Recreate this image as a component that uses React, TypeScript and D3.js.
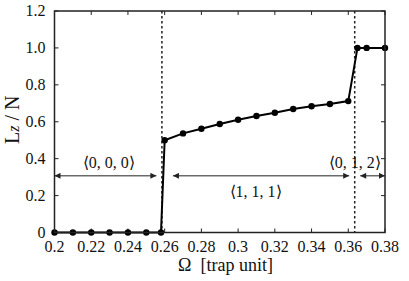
import React from "react";
import * as d3 from "d3";

const omega = [0.2, 0.21, 0.22, 0.23, 0.24, 0.25, 0.258, 0.26, 0.27, 0.28, 0.29, 0.3, 0.31, 0.32, 0.33, 0.34, 0.35, 0.36, 0.365, 0.37, 0.38];
const lzN = [0, 0, 0, 0, 0, 0, 0, 0.5, 0.537, 0.562, 0.588, 0.611, 0.631, 0.649, 0.669, 0.684, 0.696, 0.712, 1.0, 1.0, 1.0];
const xTicks = [0.2, 0.22, 0.24, 0.26, 0.28, 0.3, 0.32, 0.34, 0.36, 0.38];
const xTickLabels = ["0.2", "0.22", "0.24", "0.26", "0.28", "0.3", "0.32", "0.34", "0.36", "0.38"];
const yTicks = [0, 0.2, 0.4, 0.6, 0.8, 1.0, 1.2];
const yTickLabels = ["0", "0.2", "0.4", "0.6", "0.8", "1.0", "1.2"];
const transitions = [0.2585, 0.3635];
const regionLabels = ["⟨0, 0, 0⟩", "⟨1, 1, 1⟩", "⟨0, 1, 2⟩"];
const regionFrom = [0.2, 0.2645, 0.3665];
const regionTo = [0.2555, 0.3605, 0.38];
const regionLabelAt = [0.2295, 0.3095, 0.3635];
const regionAbove = [true, false, true];
const arrowLevel = 0.307;

const W = 409, H = 281;
const L = 54.5, R = 385, T = 11, B = 232.5;
const FONT = "Liberation Serif";

export default function App() {
  const x = d3.scaleLinear().domain([0.2, 0.38]).range([L, R]);
  const y = d3.scaleLinear().domain([0, 1.2]).range([B, T]);
  const line = d3.line<number>().x((_, i) => x(omega[i])).y((d) => y(d));
  const tl = 4;
  const ya = y(arrowLevel);
  return (
    <svg width={W} height={H} style={{ position: "absolute", left: 0, top: 0, background: "#fff" }}>
      <defs>
        <marker id="ah" viewBox="0 0 10 10" refX="10" refY="5" markerWidth="8" markerHeight="6" orient="auto-start-reverse" markerUnits="userSpaceOnUse">
          <path d="M0,0 L10,5 L0,10 z" fill="#222" />
        </marker>
      </defs>
      {transitions.map((t, i) => (
        <line key={"tr" + i} x1={x(t)} x2={x(t)} y1={T} y2={B} stroke="#222" strokeWidth={1.5} strokeDasharray="2.5,2.5" />
      ))}
      {xTicks.map((t, i) => (
        <g key={"xt" + i}>
          <line x1={x(t)} x2={x(t)} y1={B} y2={B - tl} stroke="#222" strokeWidth={1} />
          <line x1={x(t)} x2={x(t)} y1={T} y2={T + tl} stroke="#222" strokeWidth={1} />
          <text x={x(t)} y={B + 19} textAnchor="middle" fontSize={16} fill="#111" fontFamily={FONT}>{xTickLabels[i]}</text>
        </g>
      ))}
      {yTicks.map((t, i) => (
        <g key={"yt" + i}>
          <line x1={L} x2={L + tl} y1={y(t)} y2={y(t)} stroke="#222" strokeWidth={1} />
          <line x1={R} x2={R - tl} y1={y(t)} y2={y(t)} stroke="#222" strokeWidth={1} />
          <text x={L - 9} y={y(t) + 5} textAnchor="end" fontSize={16} fill="#111" fontFamily={FONT}>{yTickLabels[i]}</text>
        </g>
      ))}
      {regionLabels.map((lab, i) => (
        <g key={"rg" + i}>
          <line x1={x(regionFrom[i])} x2={x(regionTo[i])} y1={ya} y2={ya} stroke="#222" strokeWidth={1} markerStart="url(#ah)" markerEnd="url(#ah)" />
          <text x={x(regionLabelAt[i])} y={regionAbove[i] ? ya - 8 : ya + 21} textAnchor="middle" fontSize={16} fill="#111" fontFamily={FONT}>{lab}</text>
        </g>
      ))}
      <path d={line(lzN) || ""} fill="none" stroke="#000" strokeWidth={2} />
      {lzN.map((v, i) => (
        <circle key={"p" + i} cx={x(omega[i])} cy={y(v)} r={3.2} fill="#000" />
      ))}
      <rect x={L} y={T} width={R - L} height={B - T} fill="none" stroke="#222" strokeWidth={1.5} />
      <text x={W / 2 + 21} y={B + 38} textAnchor="middle" fontSize={18} fill="#111" fontFamily={FONT}>
        Ω{"\u00a0\u00a0"}[trap unit]
      </text>
      <text transform={`translate(19, ${(T + B) / 2 - 2}) rotate(-90)`} textAnchor="middle" fontSize={20} fill="#111" fontFamily={FONT}>
        L<tspan fontStyle="italic" fontSize={16}>z</tspan>{"\u00a0/\u00a0"}N
      </text>
    </svg>
  );
}
